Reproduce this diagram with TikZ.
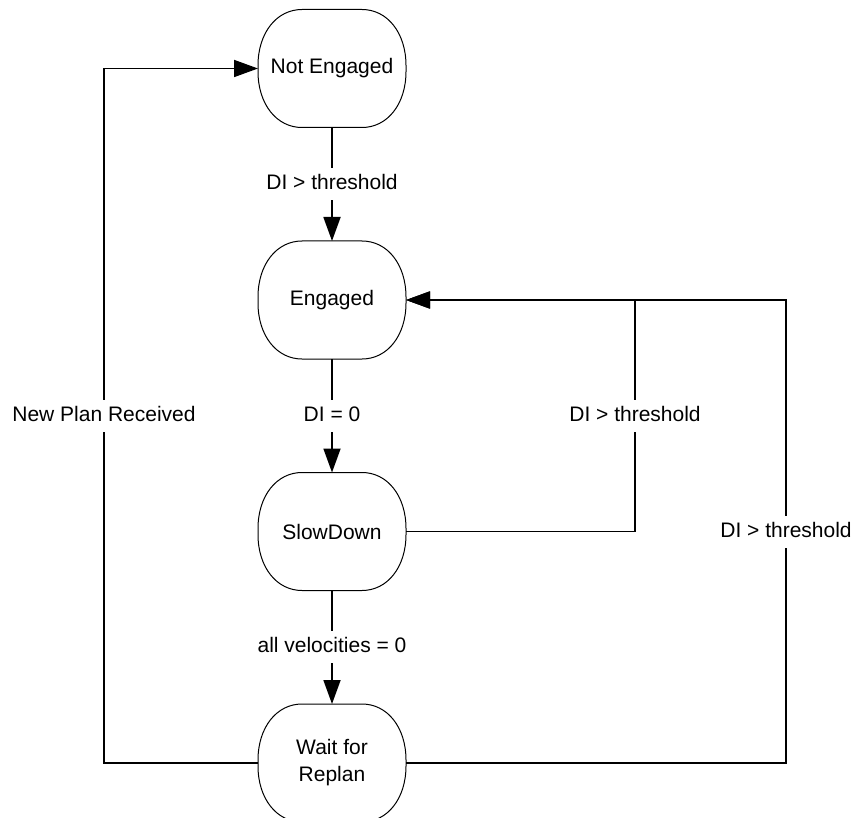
\documentclass[tikz,border=0pt]{standalone}
\usepackage{fontspec}
\setmainfont{Liberation Sans}
\usetikzlibrary{arrows.meta}

% Outline of a state: a box with large, soft elliptical corners
\newcommand\stateoutline[1]{%
  \draw[outline] ([xshift=-30pt]#1.north) -- ([xshift=30pt]#1.north)
    .. controls +(25.5,0) and +(0,-32.5) .. ([yshift=3pt]#1.east)
    -- ([yshift=-3pt]#1.east)
    .. controls +(0,32.5) and +(25.5,0) .. ([xshift=30pt]#1.south)
    -- ([xshift=-30pt]#1.south)
    .. controls +(-25.5,0) and +(0,32.5) .. ([yshift=-3pt]#1.west)
    -- ([yshift=3pt]#1.west)
    .. controls +(0,-32.5) and +(-25.5,0) .. ([xshift=-30pt]#1.north)
    -- cycle;}

\begin{document}
\begin{tikzpicture}[x=1pt,y=-1pt,
  txt/.style={font=\fontsize{21}{27}\selectfont},
  state/.style={txt, draw=none, shape=rectangle, minimum width=148pt,
    minimum height=118pt, outer sep=0pt, inner sep=0pt, align=center},
  outline/.style={draw=black, line width=1pt},
  link/.style={draw=black, line width=1.8pt},
  tip/.style={-{Triangle[length=24pt,width=17pt]}},
  lbl/.style={txt, fill=white, inner xsep=3pt, inner ysep=6.5pt,
    text height=15pt, text depth=4pt}]
\clip (0,0) rectangle (856,818);

% states
\node[state] (ne) at (332,68.5)  {Not Engaged};
\node[state] (en) at (332,300)   {Engaged};
\node[state] (sd) at (332,531.5) {SlowDown};
\node[state] (wr) at (332,763)   {Wait for\\Replan};
\foreach \s in {ne,en,sd,wr} {\stateoutline{\s}}

% corner points of the return paths
\coordinate (jA) at (635,300);
\coordinate (jB) at (786,300);
\coordinate (jL) at (104,68.5);

% forward transitions
\draw[link,tip] (ne.south) -- node[lbl]{DI > threshold} (en.north);
\draw[link,tip] (en.south) -- node[lbl]{DI = 0} (sd.north);
\draw[link,tip] (sd.south) -- node[lbl]{all velocities = 0} (wr.north);

% returns to Engaged
\draw[link,tip] (sd.east) -| (jA) node[lbl,pos=0.75]{DI > threshold} -- (en.east);
\draw[link,tip] (wr.east) -| (jB) node[lbl,pos=0.75]{DI > threshold} -- (en.east);

% return to Not Engaged
\draw[link,tip] (wr.west) -| (jL) node[lbl,pos=0.75]{New Plan Received} -- (ne.west);
\end{tikzpicture}
\end{document}
